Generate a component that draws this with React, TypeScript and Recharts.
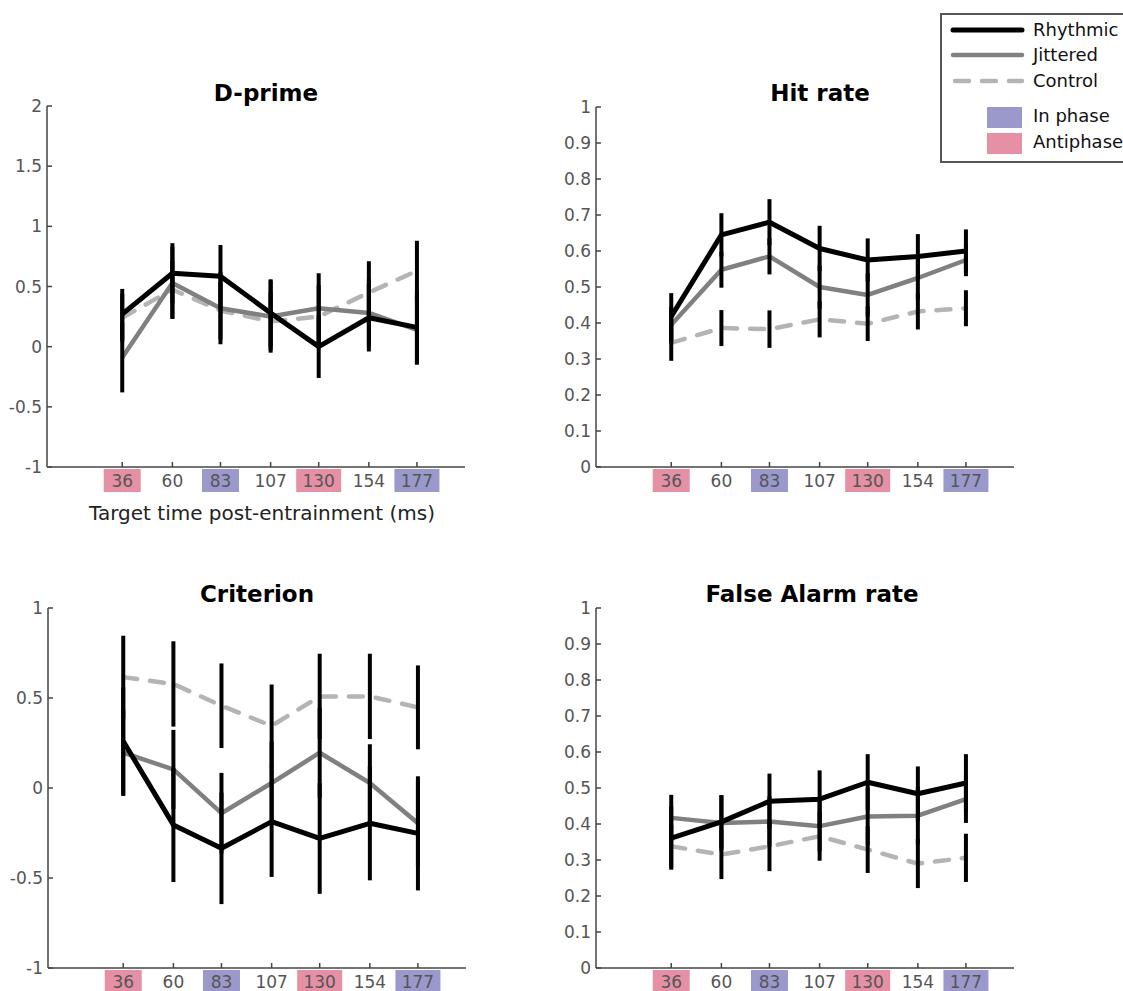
import { LineChart, Line, XAxis, YAxis, ErrorBar } from "recharts";

// target times (ms) and which ones are in phase / antiphase
const TIMES = [36, 60, 83, 107, 130, 154, 177];
const PHASES = ["anti", "", "in", "", "anti", "", "in"];

// D-prime
const DPRIME_RHYTHMIC = [0.27, 0.61, 0.585, 0.28, 0.0, 0.24, 0.16];
const DPRIME_RHYTHMIC_ERR = [0.21, 0.25, 0.26, 0.28, 0.26, 0.28, 0.3];
const DPRIME_JITTERED = [-0.09, 0.53, 0.32, 0.25, 0.32, 0.28, 0.14];
const DPRIME_JITTERED_ERR = [0.29, 0.3, 0.3, 0.3, 0.29, 0.28, 0.29];
const DPRIME_CONTROL = [0.24, 0.475, 0.3, 0.21, 0.25, 0.45, 0.63];
const DPRIME_CONTROL_ERR = [0.2, 0.24, 0.24, 0.24, 0.26, 0.26, 0.25];

// Hit rate
const HIT_RHYTHMIC = [0.418, 0.645, 0.68, 0.607, 0.575, 0.585, 0.6];
const HIT_RHYTHMIC_ERR = [0.065, 0.06, 0.064, 0.063, 0.06, 0.062, 0.06];
const HIT_JITTERED = [0.395, 0.548, 0.585, 0.5, 0.478, 0.525, 0.575];
const HIT_JITTERED_ERR = [0.05, 0.05, 0.05, 0.06, 0.06, 0.06, 0.045];
const HIT_CONTROL = [0.345, 0.386, 0.383, 0.41, 0.398, 0.432, 0.441];
const HIT_CONTROL_ERR = [0.05, 0.05, 0.052, 0.05, 0.048, 0.05, 0.05];

// Criterion
const CRIT_RHYTHMIC = [0.26, -0.205, -0.335, -0.187, -0.28, -0.196, -0.252];
const CRIT_RHYTHMIC_ERR = [0.3, 0.317, 0.31, 0.307, 0.308, 0.317, 0.317];
const CRIT_JITTERED = [0.196, 0.103, -0.14, 0.028, 0.196, 0.028, -0.196];
const CRIT_JITTERED_ERR = [0.24, 0.22, 0.224, 0.23, 0.25, 0.215, 0.24];
const CRIT_CONTROL = [0.616, 0.578, 0.457, 0.345, 0.509, 0.509, 0.448];
const CRIT_CONTROL_ERR = [0.23, 0.237, 0.235, 0.23, 0.237, 0.237, 0.233];

// False Alarm rate
const FA_RHYTHMIC = [0.361, 0.406, 0.463, 0.469, 0.516, 0.484, 0.514];
const FA_RHYTHMIC_ERR = [0.088, 0.074, 0.077, 0.08, 0.078, 0.076, 0.08];
const FA_JITTERED = [0.417, 0.403, 0.407, 0.394, 0.421, 0.423, 0.469];
const FA_JITTERED_ERR = [0.064, 0.077, 0.07, 0.07, 0.08, 0.08, 0.066];
const FA_CONTROL = [0.338, 0.315, 0.338, 0.366, 0.329, 0.29, 0.306];
const FA_CONTROL_ERR = [0.06, 0.068, 0.069, 0.068, 0.065, 0.068, 0.067];

const TICKS_DPRIME = [-1, -0.5, 0, 0.5, 1, 1.5, 2];
const TICKS_CRIT = [-1, -0.5, 0, 0.5, 1];
const TICKS_RATE = [0, 0.1, 0.2, 0.3, 0.4, 0.5, 0.6, 0.7, 0.8, 0.9, 1];

const FONT = "'DejaVu Sans', sans-serif";
const AXIS = "#444";
const TICK_TEXT = "#555";
const RHYTHMIC = "#000";
const JITTERED = "#808083";
const CONTROL = "#b4b4b7";
const PINK = "#e590a5";
const PURPLE = "#9b98cc";

const rows = (r: number[], rErr: number[], j: number[], jErr: number[], c: number[], cErr: number[]) =>
  TIMES.map((t, i) => ({ t, r: r[i], rErr: rErr[i], j: j[i], jErr: jErr[i], c: c[i], cErr: cErr[i] }));

const XTick = (props: any) => {
  const { x, y, payload } = props;
  const i = TIMES.indexOf(payload.value);
  const phase = PHASES[i];
  const label = String(payload.value);
  const w = label.length > 2 ? 45 : 37;
  return (
    <g>
      <line x1={x} x2={x} y1={y} y2={y - 5} stroke={AXIS} strokeWidth={1.5} />
      {phase && <rect x={x - w / 2} y={y + 2} width={w} height={23} fill={phase === "in" ? PURPLE : PINK} />}
      <text x={x} y={y + 13.5} dy="0.36em" textAnchor="middle" fontSize={17} fill={TICK_TEXT} fontFamily={FONT}>
        {label}
      </text>
    </g>
  );
};

const YTick = (props: any) => {
  const { x, y, payload } = props;
  return (
    <g>
      <line x1={x + 5} x2={x + 10} y1={y} y2={y} stroke={AXIS} strokeWidth={1.5} />
      <text x={x} y={y} dy="0.36em" textAnchor="end" fontSize={17} fill={TICK_TEXT} fontFamily={FONT}>
        {payload.value}
      </text>
    </g>
  );
};

type PanelProps = {
  data: any[];
  left: number;
  top: number;
  axisX: number;
  plotTop: number;
  plotBottom: number;
  domain: [number, number];
  ticks: number[];
};

const Panel = ({ data, left, top, axisX, plotTop, plotBottom, domain, ticks }: PanelProps) => {
  const width = 520;
  const xAxisH = 30;
  const height = plotBottom - top + xAxisH + 5;
  const plotRight = axisX + 418;
  return (
    <div style={{ position: "absolute", left, top }}>
      <LineChart
        width={width}
        height={height}
        data={data}
        margin={{ top: plotTop - top, left: 0, right: left + width - plotRight, bottom: 5 }}
      >
        <XAxis
          dataKey="t"
          type="number"
          domain={[0, 200]}
          ticks={TIMES}
          interval={0}
          height={xAxisH}
          tickSize={0}
          tickMargin={0}
          tickLine={false}
          tick={<XTick />}
          axisLine={{ stroke: AXIS, strokeWidth: 1.5 }}
          allowDataOverflow
        />
        <YAxis
          type="number"
          domain={domain}
          ticks={ticks}
          interval={0}
          width={axisX - left}
          tickSize={0}
          tickMargin={5}
          tickLine={false}
          tick={<YTick />}
          axisLine={{ stroke: AXIS, strokeWidth: 1.5 }}
          allowDataOverflow
        />
        <Line dataKey="c" stroke={CONTROL} strokeWidth={4.5} strokeDasharray="14 13" strokeLinecap="round" dot={false} activeDot={false} isAnimationActive={false} />
        <Line dataKey="j" stroke={JITTERED} strokeWidth={4.5} strokeLinejoin="round" dot={false} activeDot={false} isAnimationActive={false} />
        <Line dataKey="r" stroke={RHYTHMIC} strokeWidth={5} strokeLinejoin="round" dot={false} activeDot={false} isAnimationActive={false} />
        {/* error bars on top of all lines, all drawn in black */}
        <Line dataKey="c" stroke="none" dot={false} activeDot={false} isAnimationActive={false}>
          <ErrorBar dataKey="cErr" width={0} stroke="#000" strokeWidth={4} direction="y" isAnimationActive={false} />
        </Line>
        <Line dataKey="j" stroke="none" dot={false} activeDot={false} isAnimationActive={false}>
          <ErrorBar dataKey="jErr" width={0} stroke="#000" strokeWidth={4} direction="y" isAnimationActive={false} />
        </Line>
        <Line dataKey="r" stroke="none" dot={false} activeDot={false} isAnimationActive={false}>
          <ErrorBar dataKey="rErr" width={0} stroke="#000" strokeWidth={4} direction="y" isAnimationActive={false} />
        </Line>
      </LineChart>
    </div>
  );
};

const Title = ({ text, cx, top }: { text: string; cx: number; top: number }) => (
  <div
    style={{
      position: "absolute",
      left: cx,
      top,
      transform: "translateX(-50%)",
      fontFamily: FONT,
      fontWeight: "bold",
      fontSize: 23,
      lineHeight: "23px",
      whiteSpace: "nowrap",
      color: "#000",
    }}
  >
    {text}
  </div>
);

const LegendBox = () => (
  <div
    style={{
      position: "absolute",
      left: 940,
      top: 13,
      width: 200,
      height: 146,
      border: "2px solid #555",
      background: "#fff",
    }}
  >
    <svg width={200} height={146} style={{ position: "absolute", left: 0, top: 0 }}>
      <line x1={11} x2={80} y1={15} y2={15} stroke={RHYTHMIC} strokeWidth={5} strokeLinecap="round" />
      <line x1={11} x2={80} y1={40} y2={40} stroke={JITTERED} strokeWidth={4.5} strokeLinecap="round" />
      <line x1={13} x2={80} y1={66} y2={66} stroke={CONTROL} strokeWidth={4.5} strokeDasharray="14 13" strokeLinecap="round" />
      <rect x={45} y={92} width={35} height={21} fill={PURPLE} />
      <rect x={45} y={118} width={35} height={21} fill={PINK} />
      {[
        ["Rhythmic", 15],
        ["Jittered", 40],
        ["Control", 66],
        ["In phase", 101],
        ["Antiphase", 127],
      ].map(([label, y]) => (
        <text key={label as string} x={91} y={y as number} dy="0.36em" fontSize={18} fill="#111" fontFamily={FONT}>
          {label}
        </text>
      ))}
    </svg>
  </div>
);

export default function App() {
  return (
    <div
      style={{
        position: "absolute",
        left: 0,
        top: 0,
        width: 1123,
        height: 991,
        overflow: "hidden",
        background: "#fff",
        fontFamily: FONT,
      }}
    >
      <Panel
        data={rows(DPRIME_RHYTHMIC, DPRIME_RHYTHMIC_ERR, DPRIME_JITTERED, DPRIME_JITTERED_ERR, DPRIME_CONTROL, DPRIME_CONTROL_ERR)}
        left={0}
        top={80}
        axisX={47}
        plotTop={106}
        plotBottom={467}
        domain={[-1, 2]}
        ticks={TICKS_DPRIME}
      />
      <Panel
        data={rows(HIT_RHYTHMIC, HIT_RHYTHMIC_ERR, HIT_JITTERED, HIT_JITTERED_ERR, HIT_CONTROL, HIT_CONTROL_ERR)}
        left={550}
        top={80}
        axisX={596}
        plotTop={107}
        plotBottom={467}
        domain={[0, 1]}
        ticks={TICKS_RATE}
      />
      <Panel
        data={rows(CRIT_RHYTHMIC, CRIT_RHYTHMIC_ERR, CRIT_JITTERED, CRIT_JITTERED_ERR, CRIT_CONTROL, CRIT_CONTROL_ERR)}
        left={0}
        top={580}
        axisX={48}
        plotTop={608}
        plotBottom={968}
        domain={[-1, 1]}
        ticks={TICKS_CRIT}
      />
      <Panel
        data={rows(FA_RHYTHMIC, FA_RHYTHMIC_ERR, FA_JITTERED, FA_JITTERED_ERR, FA_CONTROL, FA_CONTROL_ERR)}
        left={550}
        top={580}
        axisX={596}
        plotTop={608}
        plotBottom={968}
        domain={[0, 1]}
        ticks={TICKS_RATE}
      />
      <Title text="D-prime" cx={266} top={82} />
      <Title text="Hit rate" cx={820} top={82} />
      <Title text="Criterion" cx={257} top={583} />
      <Title text="False Alarm rate" cx={812} top={583} />
      <div
        style={{
          position: "absolute",
          left: 262,
          top: 503,
          transform: "translateX(-50%)",
          fontFamily: FONT,
          fontSize: 20,
          lineHeight: "20px",
          whiteSpace: "nowrap",
          color: "#222",
        }}
      >
        Target time post-entrainment (ms)
      </div>
      <LegendBox />
    </div>
  );
}
